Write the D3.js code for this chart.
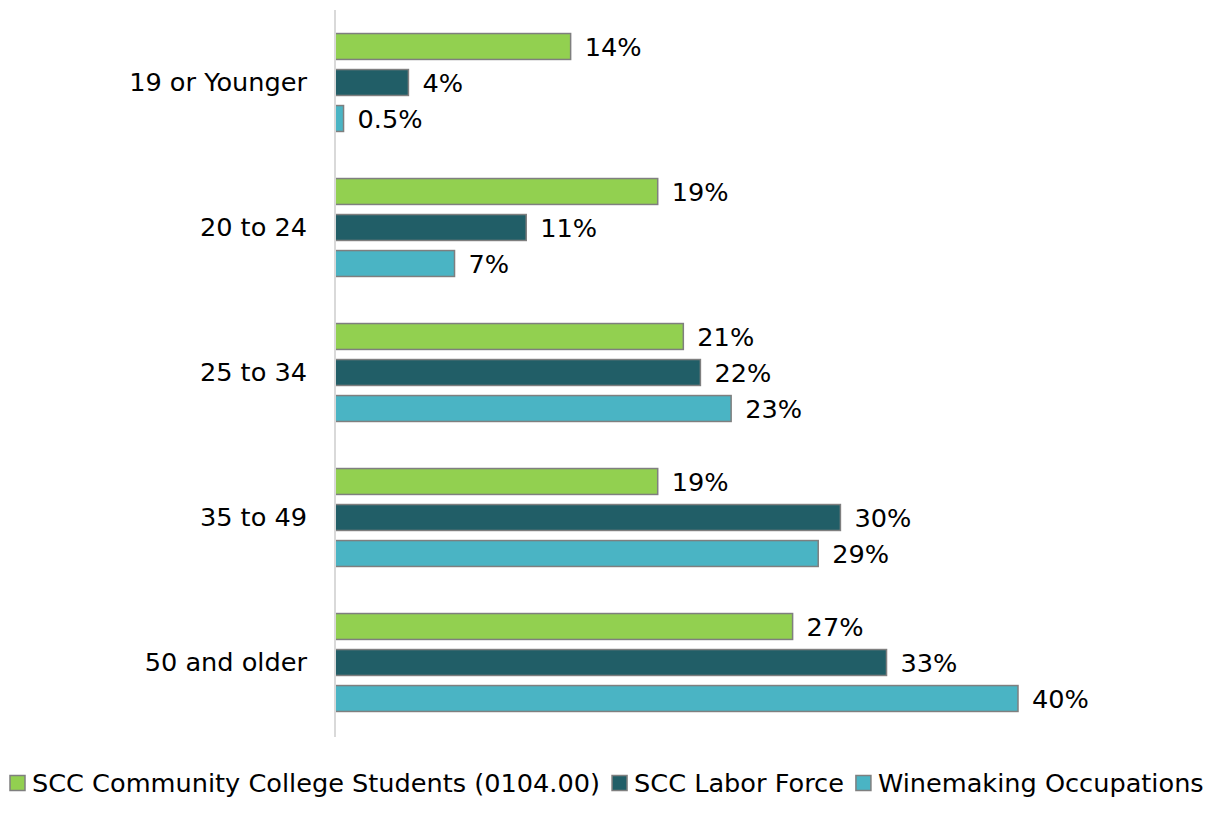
<!DOCTYPE html>
<html>
<head>
<meta charset="utf-8">
<script src="https://cdn.jsdelivr.net/npm/d3@7"></script>
<style>
  body { margin: 0; background: #fff; }
  text { font-family: "DejaVu Sans", "Lato", sans-serif; fill: #000; }
</style>
</head>
<body>
<div id="chart"></div>
<script>
//chart data
const categories = ['19 or Younger', '20 to 24', '25 to 34', '35 to 49', '50 and older'];
const series = ['SCC Community College Students (0104.00)', 'SCC Labor Force', 'Winemaking Occupations'];
const students = [13.8, 18.9, 20.4, 18.9, 26.8];
const laborForce = [4.3, 11.2, 21.4, 29.6, 32.3];
const winemaking = [0.5, 7.0, 23.2, 28.3, 40.0];
const studentLabels = ['14%', '19%', '21%', '19%', '27%'];
const laborLabels = ['4%', '11%', '22%', '30%', '33%'];
const wineLabels = ['0.5%', '7%', '23%', '29%', '40%'];

const colors = ['#92d050', '#215e67', '#4ab4c4'];

const width = 1220, height = 813;
const margin = {top: 10, left: 335, bottom: 78};
const fontSize = '25.6px';

//build rows for drawing
let values = [students, laborForce, winemaking];
let labels = [studentLabels, laborLabels, wineLabels];
let rows = categories.map(function(c, i) {
    return {cat: c, bars: series.map(function(s, j) {
        return {series: s, idx: j, value: values[j][i], label: labels[j][i]};
    })};
});

let svg = d3.select('#chart')
    .append('svg')
    .attr('width', width)
    .attr('height', height);

//scales
let x = d3.scaleLinear().domain([0, 40]).range([margin.left, 1018]);
let y = d3.scaleBand().domain(categories)
    .range([margin.top, height - margin.bottom])
    .paddingInner(0.255).paddingOuter(0.1275);
let ySub = d3.scaleBand().domain(d3.range(series.length))
    .range([0, y.bandwidth()])
    .paddingInner(0.28).paddingOuter(0.14);

//category labels
svg.append('g')
    .selectAll('text')
    .data(categories)
    .enter().append('text')
    .attr('x', margin.left - 28)
    .attr('y', function(d) { return y(d) + y.bandwidth() / 2; })
    .attr('dy', '0.35em')
    .style('text-anchor', 'end')
    .style('font-size', fontSize)
    .text(function(d) { return d; });

//bar groups
let group = svg.append('g')
    .selectAll('g')
    .data(rows)
    .enter().append('g')
    .attr('transform', function(d) { return `translate(0, ${y(d.cat)})`; });

group.selectAll('rect')
    .data(function(d) { return d.bars; })
    .enter().append('rect')
    .attr('x', x(0))
    .attr('y', function(d) { return ySub(d.idx); })
    .attr('width', function(d) { return x(d.value) - x(0); })
    .attr('height', ySub.bandwidth())
    .attr('fill', function(d) { return colors[d.idx]; })
    .attr('stroke', '#7f7f7f')
    .attr('stroke-width', 1.5);

group.selectAll('text')
    .data(function(d) { return d.bars; })
    .enter().append('text')
    .attr('x', function(d) { return x(d.value) + 14; })
    .attr('y', function(d) { return ySub(d.idx) + ySub.bandwidth() / 2; })
    .attr('dy', '0.36em')
    .style('font-size', fontSize)
    .text(function(d) { return d.label; });

//vertical axis line
svg.append('line')
    .attr('x1', x(0)).attr('x2', x(0))
    .attr('y1', margin.top).attr('y2', height - margin.bottom + 2)
    .attr('stroke', '#d9d9d9')
    .attr('stroke-width', 2);

//legend
let legend = svg.append('g').attr('transform', 'translate(0, 783)');
let lx = 10;
series.forEach(function(s, j) {
    let item = legend.append('g').attr('transform', `translate(${lx}, 0)`);
    item.append('rect')
        .attr('x', 0).attr('y', -7.5)
        .attr('width', 15).attr('height', 15)
        .attr('fill', colors[j])
        .attr('stroke', '#7f7f7f')
        .attr('stroke-width', 1.5);
    let t = item.append('text')
        .attr('x', 22)
        .attr('dy', '0.36em')
        .style('font-size', fontSize)
        .text(s);
    lx += 22 + t.node().getComputedTextLength() + 12;
});
</script>
</body>
</html>
